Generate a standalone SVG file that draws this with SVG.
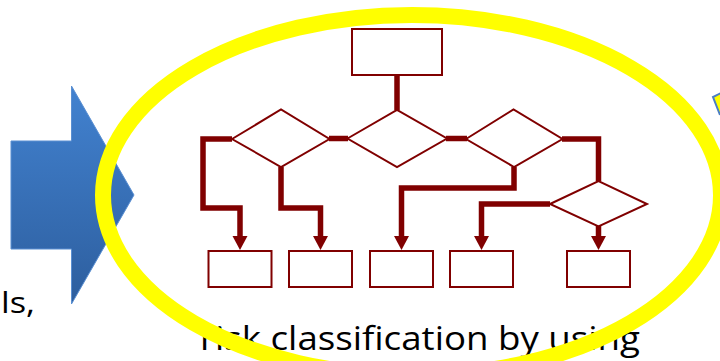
<svg xmlns="http://www.w3.org/2000/svg" width="720" height="361" viewBox="0 0 720 361">
  <defs>
    <linearGradient id="blueFill" x1="0" y1="0" x2="0" y2="1">
      <stop offset="0" stop-color="#4282D0"/>
      <stop offset="1" stop-color="#2D5E9E"/>
    </linearGradient>
    <marker id="head" markerUnits="userSpaceOnUse" markerWidth="16" markerHeight="16" viewBox="0 -8 14 16" refX="0" refY="0" orient="auto">
      <path d="M0,-7.5 L14,0 L0,7.5 Z" fill="#800000"/>
    </marker>
    <style>
      .box { fill: #ffffff; stroke: #800000; stroke-width: 2; }
      .wire { fill: none; stroke: #800000; stroke-width: 5.5; stroke-linejoin: miter; }
      .arrow { marker-end: url(#head); }
      .label { font-family: "Open Sans", "Liberation Sans", sans-serif; fill: #000000; }
    </style>
  </defs>

  <rect width="720" height="361" fill="#ffffff"/>

  <!-- blue block arrow on the left -->
  <g id="blue-arrow">
    <polygon points="11,141 71.5,141 71.5,86 134,195 71.5,304 71.5,249 11,249" fill="url(#blueFill)" stroke="#5A8FD2" stroke-width="1"/>
  </g>

  <!-- cut-off caption at the left edge -->
  <text class="label" x="1" y="313" font-size="29" textLength="34" lengthAdjust="spacingAndGlyphs">ls,</text>

  <!-- caption under the flowchart -->
  <text class="label" x="200" y="350" font-size="32" textLength="440" lengthAdjust="spacingAndGlyphs">risk classification by using</text>

  <!-- partial shape at the top-right edge -->
  <g id="corner-shape">
    <path d="M723,92 L713,97 L720,115 L723,115 Z" fill="#FFFF00"/>
    <path d="M723,92 L713,97 L720,115" fill="none" stroke="#4A7EC4" stroke-width="2"/>
  </g>

  <!-- connectors -->
  <g id="connectors">
    <path class="wire" d="M397,75 V110"/>
    <path class="wire" d="M329,138.5 H348"/>
    <path class="wire" d="M446,138.5 H467"/>
    <path class="wire arrow" d="M232,139 H203 V208 H240 V236"/>
    <path class="wire arrow" d="M281,167 V208 H320.5 V236"/>
    <path class="wire arrow" d="M514,167 V188 H401.5 V236"/>
    <path class="wire" d="M562,139 H598.5 V181"/>
    <path class="wire arrow" d="M550,204 H481.5 V236"/>
    <path class="wire arrow" d="M598.5,226 V236"/>
  </g>

  <!-- flowchart nodes -->
  <g id="start">
    <rect class="box" x="352" y="29" width="90" height="46"/>
  </g>
  <g id="decision-1">
    <polygon class="box" points="232,139 281,109.5 329.5,139 281,167"/>
  </g>
  <g id="decision-2">
    <polygon class="box" points="347.5,138.5 397,110 447,138.5 397,167"/>
  </g>
  <g id="decision-3">
    <polygon class="box" points="466,139 513.5,109.5 562.5,139 514,167"/>
  </g>
  <g id="decision-4">
    <polygon class="box" points="550,204 598.5,181 647,204 598.5,226.5"/>
  </g>
  <g id="result-1">
    <rect class="box" x="208.5" y="251" width="63" height="36"/>
  </g>
  <g id="result-2">
    <rect class="box" x="289" y="251" width="63" height="36"/>
  </g>
  <g id="result-3">
    <rect class="box" x="370" y="251" width="63" height="36"/>
  </g>
  <g id="result-4">
    <rect class="box" x="450" y="251" width="63" height="36"/>
  </g>
  <g id="result-5">
    <rect class="box" x="567" y="251" width="63" height="36"/>
  </g>

  <!-- yellow highlight ring around the flowchart -->
  <ellipse id="highlight" cx="412" cy="195.3" rx="309" ry="180.3" fill="none" stroke="#FFFF00" stroke-width="16"/>
</svg>
